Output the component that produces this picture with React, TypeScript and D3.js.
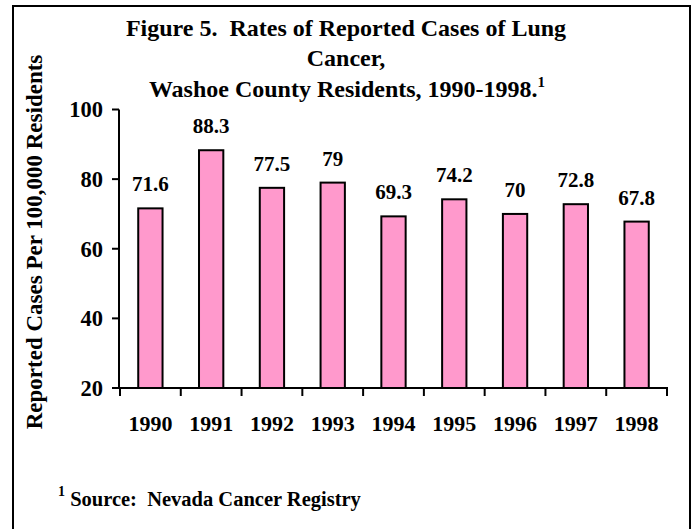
import React from "react";
import * as d3 from "d3";

// data
const years = ["1990", "1991", "1992", "1993", "1994", "1995", "1996", "1997", "1998"];
const rates = [71.6, 88.3, 77.5, 79, 69.3, 74.2, 70, 72.8, 67.8];
const rateLabels = ["71.6", "88.3", "77.5", "79", "69.3", "74.2", "70", "72.8", "67.8"];
const yTicks = [20, 40, 60, 80, 100];
const titleLines = [
  "Figure 5.\u00A0 Rates of Reported Cases of Lung",
  "Cancer,",
  "Washoe County Residents, 1990-1998.",
];

const W = 697;
const H = 529;
const FONT = "'Liberation Serif', 'Times New Roman', serif";

const App = () => {
  const x = d3
    .scaleBand<string>()
    .domain(years)
    .range([120, 667])
    .paddingInner(0.6)
    .paddingOuter(0.3);

  const y = d3.scaleLinear().domain([20, 100]).range([388, 109.5]);

  const step = x.step();
  const x0 = x.range()[0];

  return (
    <div style={{ position: "absolute", left: 0, top: 0 }}>
      <svg width={W} height={H} style={{ display: "block", fontFamily: FONT }}>
        <rect x={0} y={0} width={W} height={H} fill="#fff" />
        {/* outer frame */}
        <rect x={13} y={6} width={677} height={540} fill="none" stroke="#000" strokeWidth={2} />

        {/* Title */}
        <g fontWeight="bold" fontSize={24} textAnchor="middle">
          <text x={346} y={36}>{titleLines[0]}</text>
          <text x={346} y={66}>{titleLines[1]}</text>
          <text x={347} y={97}>
            {titleLines[2]}
            <tspan fontSize={15} dy={-10}>1</tspan>
          </text>
        </g>

        {/* Bars */}
        {years.map((yr, i) => (
          <rect
            key={yr}
            x={x(yr)}
            y={y(rates[i])}
            width={x.bandwidth()}
            height={y(20) - y(rates[i])}
            fill="#FF99CC"
            stroke="#000"
            strokeWidth={2}
          />
        ))}

        {/* Value labels */}
        <g fontWeight="bold" fontSize={21} textAnchor="middle">
          {years.map((yr, i) => (
            <text key={yr} x={(x(yr) ?? 0) + x.bandwidth() / 2} y={y(rates[i]) - 17}>
              {rateLabels[i]}
            </text>
          ))}
        </g>

        {/* Y axis */}
        <line x1={119} x2={119} y1={y(100)} y2={y(20)} stroke="#000" strokeWidth={2} />
        {yTicks.map((t) => (
          <g key={t}>
            <line x1={112} x2={119} y1={y(t)} y2={y(t)} stroke="#000" strokeWidth={2} />
            <text
              x={103}
              y={y(t)}
              dy="0.35em"
              textAnchor="end"
              fontWeight="bold"
              fontSize={22.5}
            >
              {t}
            </text>
          </g>
        ))}

        {/* X axis */}
        <line x1={119} x2={668} y1={y(20)} y2={y(20)} stroke="#000" strokeWidth={2} />
        {d3.range(years.length + 1).map((i) => (
          <line
            key={i}
            x1={x0 + i * step}
            x2={x0 + i * step}
            y1={y(20)}
            y2={y(20) + 8}
            stroke="#000"
            strokeWidth={2}
          />
        ))}
        <g fontWeight="bold" fontSize={22} textAnchor="middle">
          {years.map((yr) => (
            <text key={yr} x={(x(yr) ?? 0) + x.bandwidth() / 2} y={431}>
              {yr}
            </text>
          ))}
        </g>

        {/* Y axis title */}
        <text
          transform="translate(42,242) rotate(-90)"
          textAnchor="middle"
          fontWeight="bold"
          fontSize={23}
        >
          Reported Cases Per 100,000 Residents
        </text>

        {/* Footnote */}
        <text x={58} y={506} fontWeight="bold" fontSize={20.5}>
          <tspan fontSize={14} dy={-10}>1</tspan>
          <tspan dy={10}>{" Source:\u00A0 Nevada Cancer Registry"}</tspan>
        </text>
      </svg>
    </div>
  );
};

export default App;
